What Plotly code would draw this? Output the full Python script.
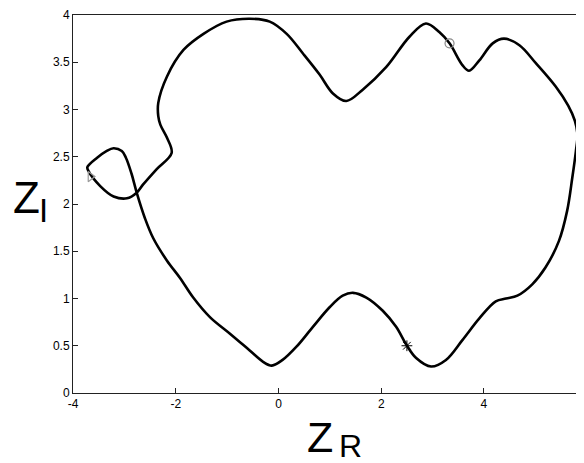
import plotly.graph_objects as go

# closed trajectory in the (Z_R, Z_I) plane
z_r = [-3.72, -3.53, -3.35, -3.21, -3.05, -2.97, -2.86, -2.76, -2.60, -2.44,
       -2.17, -1.92, -1.66, -1.33, -0.95, -0.56, -0.30, -0.13, 0.08, 0.35,
       0.67, 1.00, 1.25, 1.45, 1.71, 2.03, 2.29, 2.49, 2.68, 2.97,
       3.26, 3.58, 3.91, 4.23, 4.43, 4.65, 4.94, 5.20, 5.46, 5.62,
       5.72, 5.79, 5.82, 5.77, 5.64, 5.40, 5.01, 4.69, 4.39, 4.17,
       3.91, 3.71, 3.58, 3.33, 3.13, 2.87, 2.55, 2.10, 1.64, 1.32,
       1.06, 0.80, 0.48, 0.16, -0.17, -0.56, -1.01, -1.46, -1.85, -2.17,
       -2.34, -2.34, -2.30, -2.17, -2.08, -2.37, -2.63, -2.76, -2.95, -3.21,
       -3.47, -3.70, -3.72]
z_i = [2.39, 2.49, 2.56, 2.59, 2.56, 2.49, 2.32, 2.12, 1.85, 1.64,
       1.40, 1.22, 1.01, 0.80, 0.63, 0.45, 0.33, 0.29, 0.35, 0.49,
       0.70, 0.91, 1.03, 1.06, 1.01, 0.87, 0.70, 0.51, 0.37, 0.28,
       0.35, 0.56, 0.79, 0.97, 1.00, 1.03, 1.15, 1.33, 1.61, 1.93,
       2.28, 2.56, 2.73, 2.88, 3.04, 3.24, 3.49, 3.68, 3.75, 3.70,
       3.52, 3.41, 3.47, 3.70, 3.82, 3.91, 3.77, 3.45, 3.21, 3.09,
       3.17, 3.37, 3.59, 3.80, 3.93, 3.96, 3.93, 3.80, 3.63, 3.35,
       3.07, 2.93, 2.84, 2.70, 2.54, 2.37, 2.21, 2.12, 2.06, 2.08,
       2.19, 2.35, 2.39]

# marked points: start (triangle), circle, star
start_pt = (-3.66, 2.29)
circle_pt = (3.33, 3.70)
star_pt = (2.50, 0.50)

x_ticks = [-4, -2, 0, 2, 4, 6]
x_ticklabels = ["-4", "-2", "0", "2", "4", "6"]
y_ticks = [0, 0.5, 1, 1.5, 2, 2.5, 3, 3.5, 4]
y_ticklabels = ["0", "0.5", "1", "1.5", "2", "2.5", "3", "3.5", "4"]

FONT = "Liberation Sans, Arial, sans-serif"

fig = go.Figure()

fig.add_trace(go.Scatter(
    x=z_r, y=z_i, mode="lines",
    line=dict(color="black", width=2.6, shape="spline", smoothing=1.0),
    showlegend=False, hoverinfo="skip"
))

fig.add_trace(go.Scatter(
    x=[start_pt[0]], y=[start_pt[1]], mode="markers",
    marker=dict(symbol="triangle-right-open", size=9, color="#999",
                line=dict(width=1.2, color="#999")),
    showlegend=False
))
fig.add_trace(go.Scatter(
    x=[circle_pt[0]], y=[circle_pt[1]], mode="markers",
    marker=dict(symbol="circle-open", size=9, color="#888",
                line=dict(width=1.2, color="#888")),
    showlegend=False
))
fig.add_trace(go.Scatter(
    x=[star_pt[0]], y=[star_pt[1]], mode="markers",
    marker=dict(symbol="asterisk-open", size=9, color="black",
                line=dict(width=1, color="black")),
    showlegend=False
))

axis_style = dict(
    showline=True, linecolor="#222", linewidth=1, mirror=True,
    ticks="inside", ticklen=5, tickcolor="#222", tickwidth=1,
    showgrid=False, zeroline=False, ticklabeloverflow="allow",
    tickfont=dict(family=FONT, size=12, color="black"),
)

fig.update_xaxes(range=[-4, 5.928], tickvals=x_ticks, ticktext=x_ticklabels, **axis_style)
fig.update_yaxes(range=[0, 4], tickvals=y_ticks, ticktext=y_ticklabels, **axis_style)

# axis labels Z_R and Z_I drawn as separate big letters
labels = [
    ("Z", 0.485, -0.117, 43), ("R", 0.545, -0.141, 32),
    ("Z", -0.091, 0.517, 44), ("I", -0.0577, 0.482, 33),
]
for txt, ax, ay, sz in labels:
    fig.add_annotation(text=txt, x=ax, y=ay, xref="paper", yref="paper",
                       xanchor="center", yanchor="middle", showarrow=False,
                       font=dict(family=FONT, size=sz, color="black"))

# page body adds an 8px margin, so the figure is a little smaller
fig.update_layout(
    width=576, height=455,
    margin=dict(l=64.7, r=0, t=5, b=70),
    paper_bgcolor="white", plot_bgcolor="white",
    font=dict(family=FONT, color="black"),
)

fig.write_html("out.html")
